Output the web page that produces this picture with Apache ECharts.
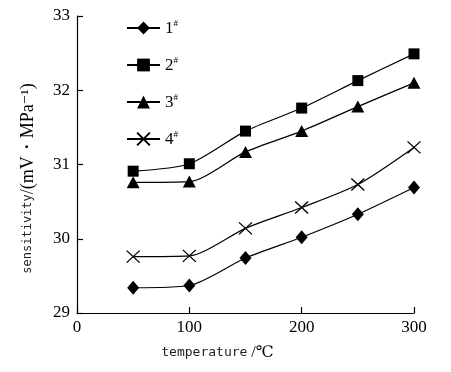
<!DOCTYPE html>
<html><head><meta charset="utf-8">
<script src="https://cdn.jsdelivr.net/npm/echarts@6/dist/echarts.min.js"></script>
<style>html,body{margin:0;padding:0;background:#fff}#c{width:451px;height:372px}</style>
</head><body><div id="c"></div>
<script>
const temperatures = [50, 100, 150, 200, 250, 300];
const seriesNames = ['1#', '2#', '3#', '4#'];
const s1 = [29.34, 29.37, 29.74, 30.02, 30.33, 30.69];
const s2 = [30.91, 31.01, 31.45, 31.76, 32.13, 32.49];
const s3 = [30.76, 30.77, 31.17, 31.45, 31.78, 32.10];
const s4 = [29.76, 29.77, 30.14, 30.42, 30.73, 31.23];
const xTicks = [0, 100, 200, 300];
const yTicks = [29, 30, 31, 32, 33];

const chart = echarts.init(document.getElementById('c'), null, {renderer: 'canvas'});
const serif = '"Liberation Serif","DejaVu Serif",serif';
const mono = '"DejaVu Sans Mono","Liberation Mono",monospace';
const crossPath = 'path://M0,0L10,10M10,0L0,10';
const symbols = ['diamond', 'rect', 'triangle', crossPath];
const sizes = [[12, 14], [11, 11], [13, 12], [13, 12]];
const datas = [s1, s2, s3, s4];

const series = datas.map((d, i) => ({
  name: seriesNames[i],
  type: 'line',
  data: temperatures.map((t, j) => [t, d[j]]),
  smooth: 0.25,
  symbol: symbols[i],
  symbolSize: sizes[i],
  showAllSymbol: true,
  lineStyle: {color: '#000', width: 1.2},
  itemStyle: i === 3 ? {color: '#fff', borderColor: '#000', borderWidth: 1.3} : {color: '#000', borderColor: '#000', borderWidth: 0},
  emphasis: {disabled: true},
  z: 3
}));

chart.setOption({
  animation: false,
  grid: {left: 77, right: 37, top: 16, bottom: 59},
  legend: {
    orient: 'vertical',
    left: 121,
    top: 14,
    itemGap: 19,
    itemWidth: 33,
    itemHeight: 16,
    data: seriesNames,
    formatter: n => '{n|' + n.replace('#', '') + '}{s|#}',
    textStyle: {
      rich: {
        n: {fontFamily: serif, fontSize: 17, color: '#000', lineHeight: 18, verticalAlign: 'bottom'},
        s: {fontFamily: serif, fontSize: 9, color: '#000', lineHeight: 18, verticalAlign: 'top', padding: [0, 0, 8, 0]}
      }
    }
  },
  xAxis: {
    type: 'value',
    min: xTicks[0], max: xTicks[xTicks.length - 1], interval: 100,
    axisLine: {lineStyle: {color: '#000', width: 1.2}},
    axisTick: {inside: true, length: 6, lineStyle: {color: '#000', width: 1.2}},
    axisLabel: {fontFamily: serif, fontSize: 17, color: '#000', margin: 6},
    splitLine: {show: false},
    name: '{a|temperature}{b| /℃}',
    nameLocation: 'middle',
    nameGap: 32,
    nameTextStyle: {
      rich: {
        a: {fontFamily: mono, fontSize: 13, color: '#222'},
        b: {fontFamily: serif, fontSize: 16, color: '#000'}
      },
      padding: [0, 56, 0, 0]
    }
  },
  yAxis: {
    type: 'value',
    min: yTicks[0], max: yTicks[yTicks.length - 1], interval: 1,
    axisLine: {show: true, lineStyle: {color: '#000', width: 1.2}},
    axisTick: {show: true, inside: true, length: 6, lineStyle: {color: '#000', width: 1.2}},
    axisLabel: {fontFamily: serif, fontSize: 17, color: '#000', margin: 7},
    splitLine: {show: false},
    name: '{a|sensitivity}{b|/(mV・MPa⁻¹)}',
    nameLocation: 'middle',
    nameGap: 40,
    nameTextStyle: {
      rich: {
        a: {fontFamily: mono, fontSize: 12, color: '#222'},
        b: {fontFamily: serif, fontSize: 18, color: '#000'}
      },
      padding: [0, 28, 0, 0]
    }
  },
  series: series
});
</script></body></html>
